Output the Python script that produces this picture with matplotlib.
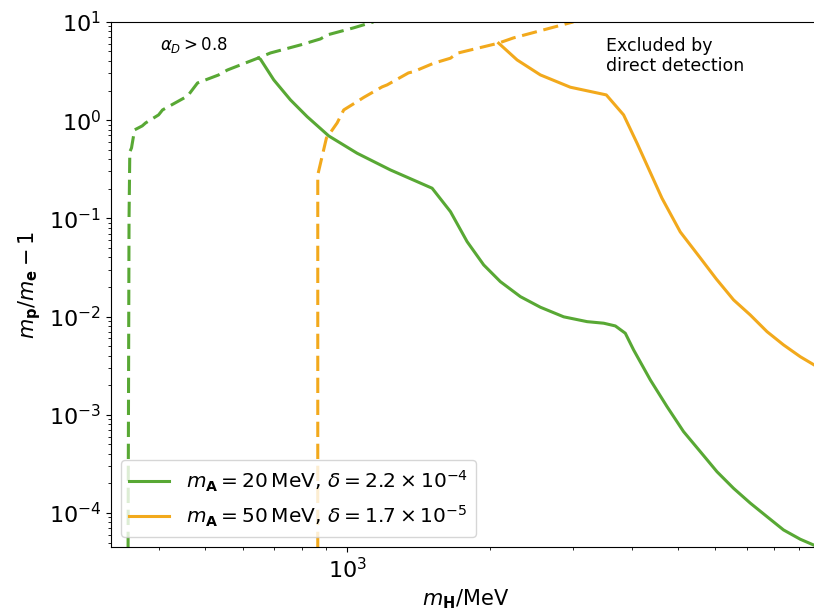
import matplotlib
matplotlib.use("Agg")
import matplotlib.pyplot as plt

# alpha_D > 0.8 boundaries (dashed)
g_dash_x = [343.6, 345.2, 346.5, 349.4, 354.6, 368.1, 374.2, 398.6, 406.4, 459.2, 481.9,
            533.6, 557.5, 648.3, 687.5, 795.6, 876.9, 907.2, 1029.6, 1135]
g_dash_y = [4.5e-5, 0.0964, 0.474, 0.521, 0.795, 0.873, 0.936, 1.13, 1.27, 1.76, 2.39,
            2.88, 3.24, 4.30, 4.83, 5.83, 6.71, 7.38, 8.69, 10.0]

o_dash_x = [865.5, 865.5, 902.9, 913.1, 951.1, 982.2, 1048.3, 1082.6, 1184, 1213, 1346,
            1381, 1522, 1651.6, 1706, 2085, 2244, 3005]
o_dash_y = [4.5e-5, 0.2767, 0.659, 0.707, 0.936, 1.27, 1.543, 1.703, 2.18, 2.283, 3.025,
            3.118, 3.796, 4.27, 4.80, 6.07, 6.87, 10.0]

# direct detection limits (solid)
g_x = [648.3, 654.7, 698.6, 757.7, 821.8, 913.1, 1048.3, 1232.7, 1404, 1510.6, 1651.6,
       1791, 1942, 2106, 2322, 2559, 2867, 3213, 3484, 3687, 3870, 4030, 4372, 4742,
       5140, 5576, 6048, 6558, 7112, 7716, 8365, 9073, 9679, 10000]
g_y = [4.27, 4.17, 2.567, 1.606, 1.085, 0.690, 0.460, 0.311, 0.2364, 0.2025, 0.117,
       0.0579, 0.03353, 0.02266, 0.01594, 0.01244, 0.00993, 0.00887, 0.00855, 0.00802,
       0.00676, 0.00457, 0.00226, 0.00121, 6.73e-4, 4.21e-4, 2.63e-4, 1.78e-4, 1.26e-4,
       9.17e-5, 6.71e-5, 5.40e-5, 4.72e-5, 4.40e-5]

o_x = [2089, 2285, 2559, 2961, 3528, 3838, 4098, 4627, 5058, 5576, 6027, 6558, 7112,
       7716, 8365, 9073, 9712, 10000]
o_y = [6.07, 4.10, 2.886, 2.163, 1.806, 1.13, 0.582, 0.1602, 0.0727, 0.0395, 0.02415,
       0.01476, 0.01038, 0.00702, 0.00514, 0.0039, 0.00321, 0.003]

green = "#58a834"
orange = "#f2a91c"

fig = plt.figure(figsize=(8.14, 6.12), dpi=100)
# axes run slightly past the right edge, like the cropped original
ax = fig.add_axes([0.1364, 0.1062, 0.871, 0.858])

ax.plot(g_x, g_y, color=green, lw=2.2,
        label=r"$m_\mathbf{A} = 20\,\mathrm{MeV},\,\delta = 2.2 \times 10^{-4}$")
ax.plot(o_x, o_y, color=orange, lw=2.2,
        label=r"$m_\mathbf{A} = 50\,\mathrm{MeV},\,\delta = 1.7 \times 10^{-5}$")
ax.plot(g_dash_x, g_dash_y, color=green, lw=2.2, ls="--", dashes=(5, 2.2))
ax.plot(o_dash_x, o_dash_y, color=orange, lw=2.2, ls="--", dashes=(5, 2.2))

ax.set_xscale("log")
ax.set_yscale("log")
ax.set_xlim(10**2.5, 9990)
ax.set_ylim(4.5e-5, 10)

ax.set_xlabel(r"$m_\mathbf{H}/\mathrm{MeV}$", fontsize=15)
ax.set_ylabel(r"$m_\mathbf{p}/m_\mathbf{e} - 1$", fontsize=15)
ax.tick_params(axis="both", which="major", labelsize=16)

ax.text(0.069, 0.956, r"$\alpha_D > 0.8$", transform=ax.transAxes,
        fontsize=12, va="center", ha="left")
ax.text(0.698, 0.972, "Excluded by\ndirect detection", transform=ax.transAxes,
        fontsize=12.5, va="top", ha="left")

ax.legend(loc="lower left", fontsize=14.5, handlelength=2.0)

plt.savefig("out.png", dpi=100)
